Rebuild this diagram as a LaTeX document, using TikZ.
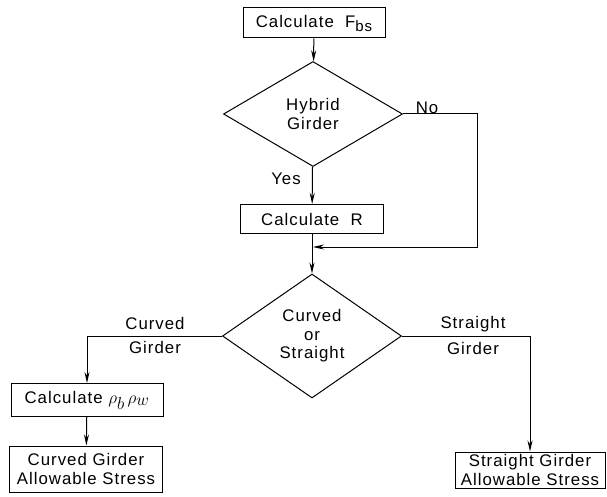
\documentclass[tikz,border=0pt]{standalone}
\usepackage{amsmath}
\usepackage{fontspec}
\usepackage{tikz}
\usetikzlibrary{shapes.geometric,arrows.meta}
\setmainfont[LetterSpace=6]{Liberation Sans}

\tikzset{
	flowbox/.style={draw, line width=1pt, inner sep=1pt, align=center},
	decision/.style={draw, diamond, line width=1pt, inner sep=0pt, align=center},
	flowline/.style={line width=1pt, -{Stealth[length=11pt,width=5pt]}},
	branchlabel/.style={inner sep=0pt, align=center},
}

\begin{document}
\begin{tikzpicture}[x=1pt, y=-1pt, font=\fontsize{16.8}{18.5}\selectfont]
			\useasboundingbox (0,0) rectangle (607,497);
				\node[flowbox, minimum width=142pt, minimum height=30pt] at (314, 23) (fbs) {Calculate\ \ F\raisebox{-4pt}{\fontsize{15}{15}\selectfont bs}};
				\node[decision, minimum width=179pt, minimum height=105pt] at (313, 114) (hybrid) {Hybrid\\Girder};
				\node[flowbox, minimum width=143pt, minimum height=29pt] at (312, 219) (calcR) {Calculate\ \ R};
				\node[decision, minimum width=179pt, minimum height=124pt] at (312, 336) (curvstr) {Curved\\or\\Straight};
				\node[flowbox, minimum width=152pt, minimum height=33pt] at (87, 400) (rho) {Calculate \(\rho_{\textstyle b}\,\rho_{\textstyle w}\)};
				\node[flowbox, minimum width=153pt, minimum height=46pt] at (86, 469) (curvstress) {Curved Girder\\Allowable Stress};
				\node[flowbox, minimum width=150pt, minimum height=36pt] at (530, 470) (strstress) {Straight\ Girder\\Allowable Stress};
				\coordinate (nocorner) at (477, 247);
				\coordinate (merge) at (313, 247);
				% branch labels
				\node[branchlabel] at (427, 108) (nolabel) {No};
				\node[branchlabel] at (286, 179) (yeslabel) {Yes};
				\node[branchlabel] at (155, 323) (curvlabel) {Curved};
				\node[branchlabel] at (155, 347) (curvlabelb) {Girder};
				\node[branchlabel] at (473, 324) (strlabel) {Straight};
				\node[branchlabel] at (473, 348) (strlabelb) {Girder};
				% connectors
				\draw[flowline] (fbs) -- (hybrid);
				\draw[flowline] (hybrid) -- (calcR);
				\draw[flowline] (hybrid.east) -| (nocorner) -- (merge);
				\draw[flowline] (calcR) -- (curvstr);
				\draw[flowline] (curvstr.west) -| (rho.north);
				\draw[flowline] (curvstr.east) -| (strstress.north);
				\draw[flowline] (rho) -- (curvstress);
		\end{tikzpicture}
\end{document}
